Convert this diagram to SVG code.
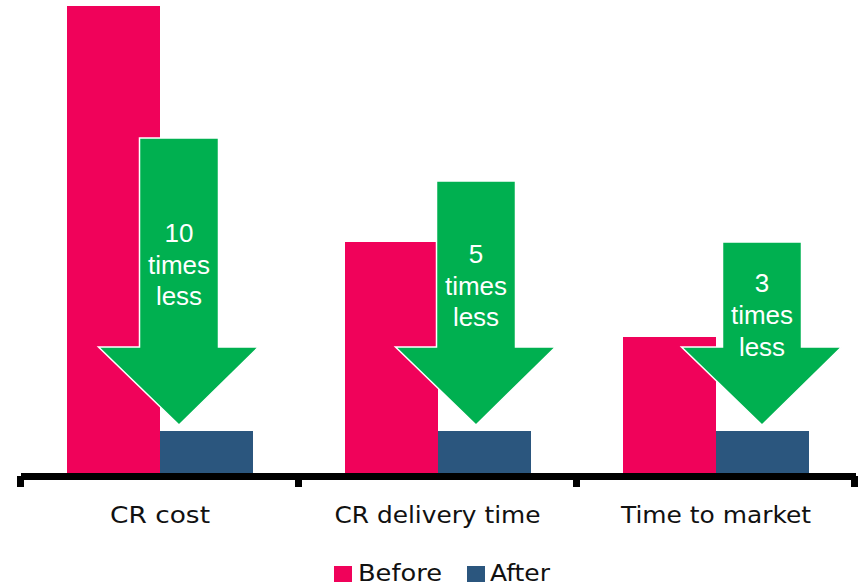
<svg xmlns="http://www.w3.org/2000/svg" width="862" height="585" viewBox="0 0 862 585">
<style>
.before{fill:#F0025A}
.after{fill:#2B567E}
.arrow{fill:#00B050;stroke:#FFFFFF;stroke-width:1.5;stroke-linejoin:miter}
.atxt{font-family:"Liberation Sans",Arial,sans-serif;font-size:26px;fill:#FFFFFF;text-anchor:middle}
.lbl{font-family:"DejaVu Sans","Liberation Sans",sans-serif;font-size:23px;fill:#111111;text-anchor:middle}
.leg{font-family:"DejaVu Sans","Liberation Sans",sans-serif;font-size:23px;fill:#111111}
.axis{fill:#000000}
</style>
<rect width="862" height="585" fill="#FFFFFF"/>
<g id="bars">
  <rect class="before" x="67" y="6" width="93" height="468"/>
  <rect class="after" x="160" y="431" width="93" height="43"/>
  <rect class="before" x="345" y="242" width="93" height="232"/>
  <rect class="after" x="438" y="431" width="93" height="43"/>
  <rect class="before" x="623" y="337" width="93" height="137"/>
  <rect class="after" x="716" y="431" width="93" height="43"/>
</g>
<g id="axis">
  <rect class="axis" x="21" y="473" width="835" height="7"/>
  <rect class="axis" x="17" y="476" width="7" height="11"/>
  <rect class="axis" x="295" y="476" width="7" height="11"/>
  <rect class="axis" x="573" y="476" width="7" height="11"/>
  <rect class="axis" x="851" y="476" width="7" height="11"/>
</g>
<g id="arrow-cost">
  <polygon class="arrow" points="139.5,138 218.5,138 218.5,347 258.5,347 179,425 98.5,347 139.5,347"/>
  <text class="atxt" x="179" y="242">10</text>
  <text class="atxt" x="179" y="273.5">times</text>
  <text class="atxt" x="179" y="305">less</text>
</g>
<g id="arrow-delivery">
  <polygon class="arrow" points="436.5,181 515.5,181 515.5,347 555.5,347 476,425 395.5,347 436.5,347"/>
  <text class="atxt" x="476" y="263">5</text>
  <text class="atxt" x="476" y="294.5">times</text>
  <text class="atxt" x="476" y="326">less</text>
</g>
<g id="arrow-market">
  <polygon class="arrow" points="722.5,242 801.5,242 801.5,347 841.5,347 762,425 681.5,347 722.5,347"/>
  <text class="atxt" x="762" y="292">3</text>
  <text class="atxt" x="762" y="324">times</text>
  <text class="atxt" x="762" y="356">less</text>
</g>
<g id="labels">
  <text class="lbl" x="160" y="523" textLength="100" lengthAdjust="spacingAndGlyphs">CR cost</text>
  <text class="lbl" x="437.5" y="523" textLength="206" lengthAdjust="spacingAndGlyphs">CR delivery time</text>
  <text class="lbl" x="716" y="523" textLength="190" lengthAdjust="spacingAndGlyphs">Time to market</text>
</g>
<g id="legend">
  <rect class="before" x="334" y="566" width="18" height="16"/>
  <text class="leg" x="358" y="581" textLength="84" lengthAdjust="spacingAndGlyphs">Before</text>
  <rect class="after" x="467" y="566" width="18" height="16"/>
  <text class="leg" x="490" y="581" textLength="60" lengthAdjust="spacingAndGlyphs">After</text>
</g>
</svg>
